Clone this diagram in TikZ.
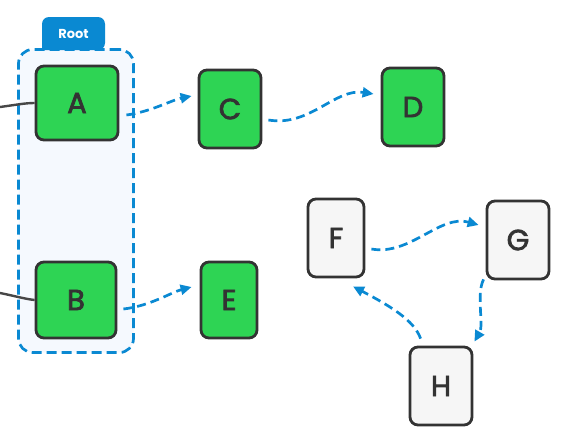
\documentclass[tikz,border=0pt]{standalone}
\usepackage{fontspec}
\setmainfont{Poppins}
\newfontfamily\nodefont{Poppins}[FakeBold=2.5]
\usetikzlibrary{arrows.meta,calc}
\definecolor{ink}{HTML}{333333}
\definecolor{leaf}{HTML}{2ED454}
\definecolor{pale}{HTML}{F6F6F6}
\definecolor{sky}{HTML}{0A89D2}
\definecolor{boxbg}{HTML}{F5F9FE}
\tikzset{
  base/.style={draw=ink, line width=2.8pt, rounded corners=8pt, text=ink,
    font=\nodefont\fontsize{29}{32}\selectfont, inner sep=0pt},
  greenbox/.style={base, fill=leaf},
  graybox/.style={base, fill=pale},
  link/.style={draw=sky, line width=2.7pt, dash pattern=on 9pt off 5pt,
    -{Triangle[length=11pt,width=10pt]}},
  feed/.style={draw=ink!90, line width=2.4pt},
}
\begin{document}
\begin{tikzpicture}[x=1pt,y=-1pt]
\useasboundingbox (0,0) rectangle (562,442);
% container
\node[draw=sky, fill=boxbg, line width=2.7pt, dash pattern=on 10pt off 5pt,
  rounded corners=14pt, minimum width=115pt, minimum height=303pt, inner sep=0pt]
  (root) at (76,201) {};
\fill[sky, rounded corners=7pt] (42,50) -- (42,17) -- (105,17) -- (105,50) [sharp corners] -- cycle;
\node[text=white, font=\bfseries\fontsize{13}{15}\selectfont] (rootlbl) at (73.5,33.5) {Root};
% nodes
\node[greenbox, minimum width=82pt, minimum height=74pt] (A) at (77,103) {A};
\node[greenbox, minimum width=80pt, minimum height=76pt] (B) at (76,300) {B};
\node[greenbox, minimum width=62pt, minimum height=78pt] (C) at (230,109) {C};
\node[greenbox, minimum width=62pt, minimum height=78pt] (D) at (413,107) {D};
\node[greenbox, minimum width=56pt, minimum height=76pt] (E) at (229,300) {E};
\node[graybox, minimum width=56pt, minimum height=78pt] (F) at (336,238) {F};
\node[graybox, minimum width=62pt, minimum height=78pt] (G) at (518,240) {G};
\node[graybox, minimum width=62pt, minimum height=78pt] (H) at (441,386) {H};
% feeding lines
\coordinate (inA) at (0,107);
\coordinate (inB) at (0,293);
\draw[feed] (inA) .. controls (15,105) and (25,103) .. (A.west);
\draw[feed] (inB) .. controls (15,296) and (25,299) .. (B.west);
% links
\draw[link] ($(A.east)+(7,12)$) .. controls (150,112) and (172,100) .. ($(C.west)+(-6,-13)$);
\draw[link] ($(B.east)+(6,9)$) .. controls (150,306) and (172,292) .. ($(E.west)+(-8,-13)$);
\draw[link] ($(C.east)+(6,11)$) .. controls (310,127) and (335,88) .. ($(D.west)+(-7,-13)$);
\draw[link] ($(F.east)+(6,11)$) .. controls (410,256) and (440,214) .. ($(G.west)+(-7,-15)$);
\draw[link] ($(G.south west)+(-2,-1)$) .. controls (476,294) and (484,325) .. ($(H.north east)+(1,-4)$);
\draw[link] ($(H.north west)+(12,-7)$) .. controls (414,320) and (390,306) .. ($(F.south)+(17,8)$);
\end{tikzpicture}
\end{document}
